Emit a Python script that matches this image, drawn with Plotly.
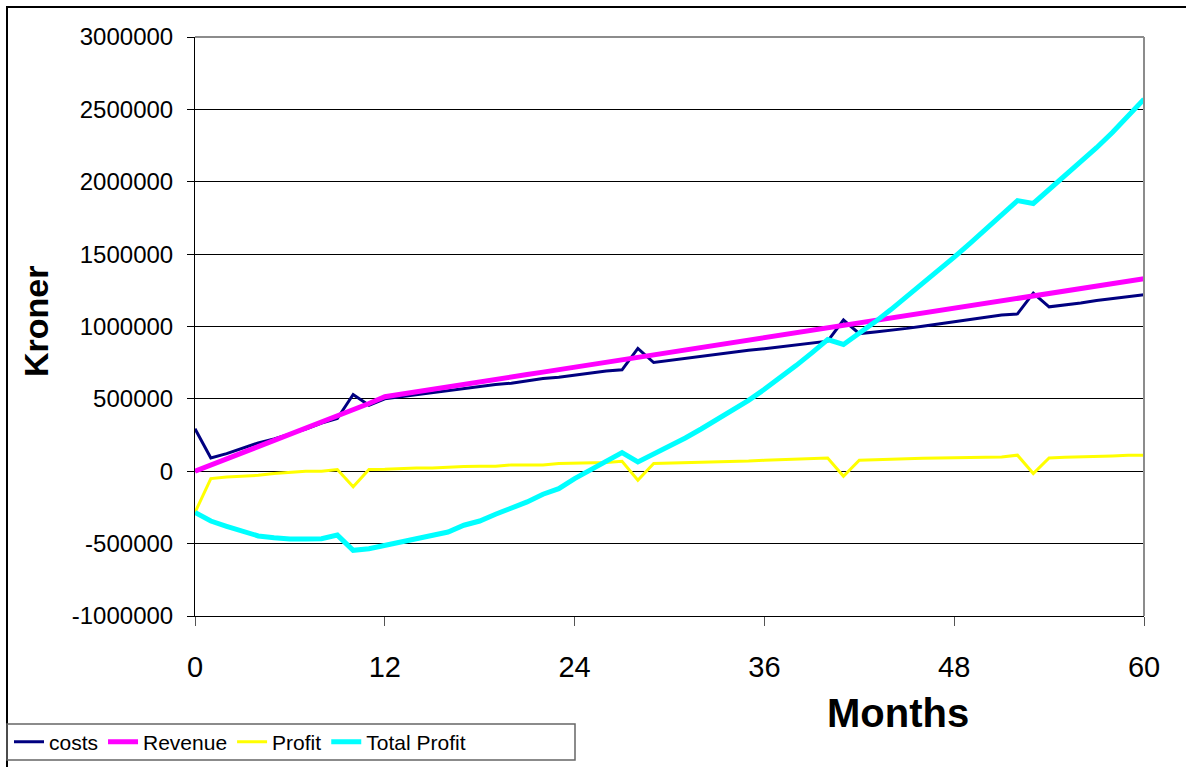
import plotly.graph_objects as go

months = list(range(61))

costs = [293000, 92000, 122000, 158000, 196000, 224000, 258000, 291000, 333000, 364000,
         530000, 456000, 500000, 514000, 527000, 544000, 554000, 569000, 583000, 600000,
         608000, 624000, 641000, 649000, 664000, 681000, 693000, 701000, 849000, 751000,
         766000, 780000, 793000, 809000, 824000, 836000, 847000, 860000, 873000, 886000,
         899000, 1045000, 951000, 962000, 973000, 987000, 1002000, 1017000, 1034000, 1048000,
         1063000, 1079000, 1087000, 1230000, 1136000, 1148000, 1163000, 1179000, 1191000, 1203000,
         1219000]

revenue = [0, 42000, 84000, 126000, 168000, 208000, 249000, 291000, 333000, 376000,
           420000, 468000, 515000, 533000, 550000, 567000, 584000, 601000, 618000, 635000,
           652000, 668000, 685000, 702000, 719000, 736000, 753000, 770000, 787000, 804000,
           821000, 838000, 855000, 872000, 889000, 906000, 923000, 940000, 957000, 974000,
           991000, 1008000, 1025000, 1042000, 1058000, 1075000, 1092000, 1109000, 1126000, 1143000,
           1160000, 1177000, 1194000, 1211000, 1228000, 1245000, 1262000, 1279000, 1296000, 1313000,
           1330000]

profit = [-285000, -51000, -39000, -33000, -28000, -16000, -9000, 0, 0, 12000,
          -108000, 12000, 14000, 19000, 23000, 23000, 30000, 32000, 35000, 35000,
          44000, 44000, 44000, 53000, 55000, 55000, 60000, 69000, -62000, 53000,
          55000, 58000, 62000, 63000, 65000, 70000, 76000, 80000, 84000, 88000,
          92000, -35000, 76000, 80000, 85000, 88000, 90000, 92000, 92000, 95000,
          97000, 98000, 111000, -16000, 92000, 97000, 99000, 100000, 105000, 110000,
          111000]

total_profit = [-285000, -344000, -380000, -413000, -447000, -459000, -468000, -468000, -466000, -441000,
                -546000, -535000, -512000, -489000, -466000, -447000, -420000, -373000, -344000, -297000,
                -258000, -212000, -159000, -120000, -51000, 7000, 71000, 129000, 64000, 117000,
                172000, 230000, 292000, 355000, 420000, 490000, 566000, 646000, 730000, 818000,
                910000, 876000, 952000, 1032000, 1117000, 1205000, 1295000, 1387000, 1479000, 1574000,
                1671000, 1769000, 1870000, 1850000, 1945000, 2040000, 2135000, 2235000, 2340000, 2450000,
                2570000]

x_ticks = [0, 12, 24, 36, 48, 60]
y_ticks = [-1000000, -500000, 0, 500000, 1000000, 1500000, 2000000, 2500000, 3000000]
y_tick_text = ["-1000000", "-500000", "0", "500000", "1000000", "1500000", "2000000", "2500000", "3000000"]

FONT = "Liberation Sans, Arial, sans-serif"

fig = go.Figure()
fig.add_trace(go.Scatter(x=months, y=costs, mode="lines", name="costs",
                         line=dict(color="#000080", width=3)))
fig.add_trace(go.Scatter(x=months, y=revenue, mode="lines", name="Revenue",
                         line=dict(color="#FF00FF", width=5)))
fig.add_trace(go.Scatter(x=months, y=profit, mode="lines", name="Profit",
                         line=dict(color="#FFFF00", width=3)))
fig.add_trace(go.Scatter(x=months, y=total_profit, mode="lines", name="Total Profit",
                         line=dict(color="#00FFFF", width=5)))

L, R, T, B = 195, 42, 37, 151
W, H = 1186, 767
pw, ph = W - L - R, H - T - B

def px_x(p):
    return (p - L) / pw

def px_y(p):
    return (H - B - p) / ph

fig.update_layout(
    width=W, height=H,
    margin=dict(l=L, r=R, t=T, b=B, pad=0, autoexpand=False),
    paper_bgcolor="white", plot_bgcolor="white",
    font=dict(family=FONT, color="black"),
    showlegend=True,
    legend=dict(orientation="h", x=px_x(9), y=px_y(742), xanchor="left", yanchor="middle",
                font=dict(size=21, family=FONT), bgcolor="rgba(0,0,0,0)", borderwidth=0,
                itemwidth=30, tracegroupgap=0),
    xaxis=dict(range=[0, 60], tickvals=x_ticks, showgrid=False, zeroline=False,
               showline=True, linecolor="black", linewidth=1,
               ticks="outside", ticklen=9, tickcolor="#555555", tickwidth=1,
               tickfont=dict(size=29, family=FONT), ticklabelstandoff=16),
    yaxis=dict(range=[-1000000, 3000000], tickvals=y_ticks, ticktext=y_tick_text,
               showgrid=True, gridcolor="black", gridwidth=1, zeroline=False,
               showline=True, linecolor="black", linewidth=1,
               ticks="outside", ticklen=7, tickcolor="black", tickwidth=1,
               tickfont=dict(size=24, family=FONT), ticklabelstandoff=9),
)

shapes = [
    dict(type="line", xref="paper", yref="paper", x0=0, x1=1, y0=1, y1=1,
         line=dict(color="#8c8c8c", width=2)),
    dict(type="line", xref="paper", yref="paper", x0=1, x1=1, y0=0, y1=1,
         line=dict(color="#8c8c8c", width=2)),
    dict(type="rect", xref="paper", yref="paper", x0=px_x(7), x1=px_x(1200),
         y0=px_y(780), y1=px_y(7), line=dict(color="black", width=2), layer="below"),
    dict(type="rect", xref="paper", yref="paper", x0=px_x(7), x1=px_x(575),
         y0=px_y(760), y1=px_y(724), line=dict(color="#666666", width=1.5)),
]
fig.update_layout(shapes=shapes)

fig.add_annotation(text="<b>Months</b>", xref="paper", yref="paper",
                   x=px_x(898), y=px_y(713), xanchor="center", yanchor="middle",
                   showarrow=False, font=dict(size=40, family=FONT, color="black"))
fig.add_annotation(text="<b>Kroner</b>", xref="paper", yref="paper",
                   x=px_x(36), y=px_y(322), xanchor="center", yanchor="middle",
                   textangle=-90, showarrow=False,
                   font=dict(size=34, family=FONT, color="black"))

fig.write_html("out.html")
